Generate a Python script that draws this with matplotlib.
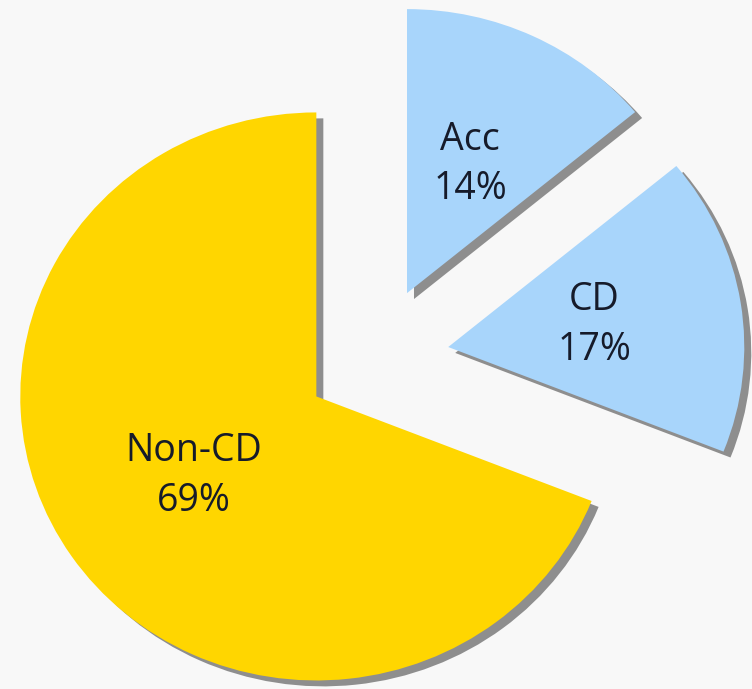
import matplotlib
matplotlib.use("Agg")
import matplotlib.pyplot as plt

categories = ["Acc", "CD", "Non-CD"]
values = [14, 17, 69]
colors = ["#A8D5FB", "#A8D5FB", "#FFD600"]
explode = [0.253, 0.25, 0.24]

bg = "#F8F8F8"
fig = plt.figure(figsize=(7.52, 6.89), dpi=100, facecolor=bg)
ax = fig.add_axes([0, 0, 1, 1])
ax.set_facecolor(bg)

wedges, texts, autotexts = ax.pie(
    values, colors=colors, explode=explode, startangle=90, counterclock=False,
    autopct="%1.0f%%", pctdistance=0.5,
    shadow=dict(ox=0.017, oy=-0.015, facecolor="#8E8E8E", edgecolor="none", alpha=1.0),
    wedgeprops=dict(linewidth=0),
    textprops=dict(fontfamily=["Open Sans", "DejaVu Sans"], fontsize=27, color="#161B2A"),
)
for cat, t in zip(categories, autotexts):
    t.set_text(f"{cat}\n{t.get_text()}")
    t.set_linespacing(1.4)
    t.set_ha("center")
    t.set_va("center")

ax.set_aspect("auto")
ax.set_xlim(-1.267, 1.273)
ax.set_ylim(-1.165, 1.261)
ax.axis("off")

fig.savefig("out.png", dpi=100, facecolor=bg)
